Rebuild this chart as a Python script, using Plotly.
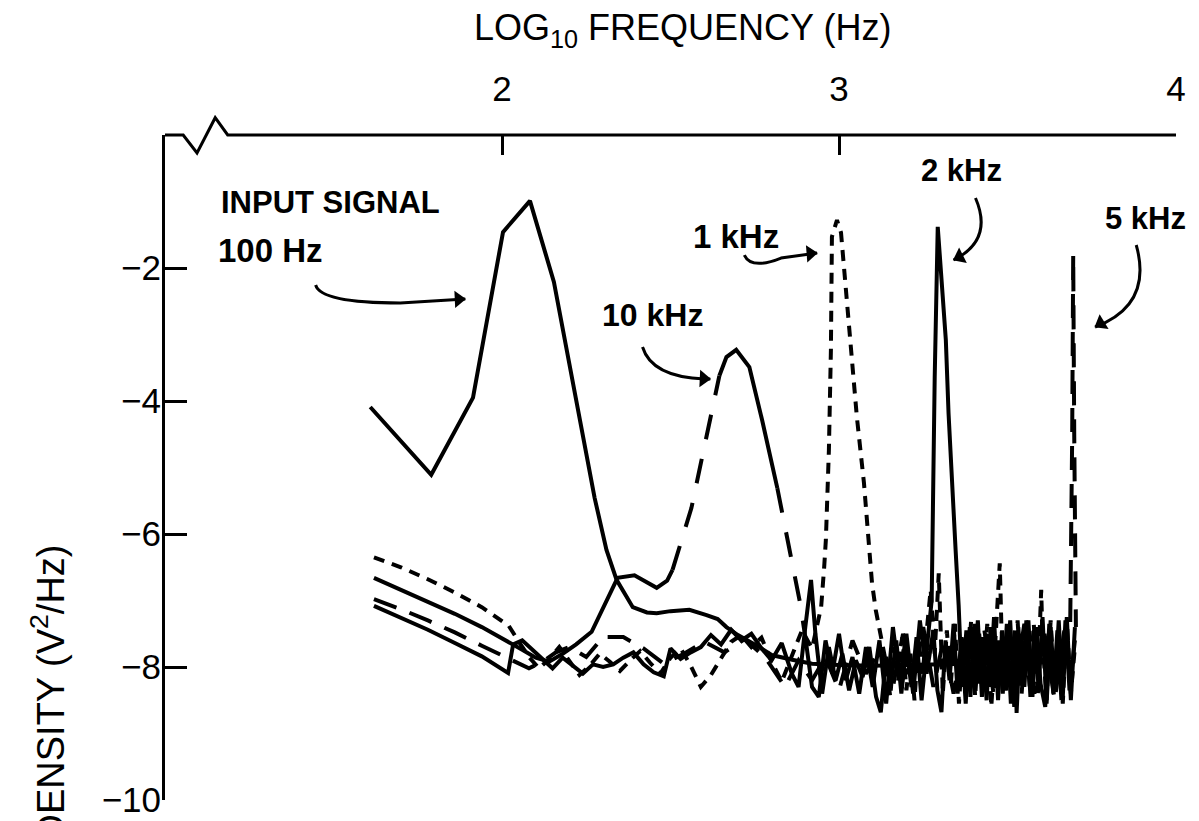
import math
import plotly.graph_objects as go

# ---------------- data: (log10 frequency [Hz], log10 spectral density [V^2/Hz]) ----------------
HUNDRED_HZ = [
    (1.609, -4.09), (1.790, -5.11), (1.914, -3.95), (2.003, -1.46), (2.083, -0.99),
    (2.154, -2.21), (2.275, -5.46), (2.31, -6.24), (2.34, -6.69), (2.388, -7.10),
    (2.43, -7.18), (2.459, -7.19), (2.50, -7.16), (2.556, -7.14), (2.607, -7.22),
    (2.64, -7.28), (2.666, -7.40), (2.70, -7.52), (2.763, -7.70), (2.80, -7.82),
    (2.861, -7.89), (2.92, -7.95), (3.00, -7.97), (3.10, -7.98), (3.20, -7.97),
    (3.30, -7.96), (3.40, -7.95), (3.50, -7.94), (3.60, -7.93), (3.70, -7.92),
]

ONE_KHZ = [
    (1.62, -6.35), (1.70, -6.50), (1.78, -6.68), (1.86, -6.88), (1.94, -7.10), (2.02, -7.38),
    (2.05, -7.62), (2.08, -7.85), (2.11, -8.02), (2.14, -7.88), (2.17, -7.70), (2.20, -7.92),
    (2.23, -8.12), (2.26, -7.98), (2.29, -7.80), (2.32, -7.92), (2.35, -8.06), (2.38, -7.90),
    (2.41, -7.76), (2.44, -7.94), (2.47, -8.10), (2.50, -7.86), (2.53, -7.72), (2.56, -7.98),
    (2.59, -8.30), (2.62, -8.12), (2.65, -7.88), (2.68, -7.62), (2.71, -7.52), (2.74, -7.70),
    (2.77, -7.56), (2.80, -7.92), (2.83, -8.22), (2.86, -7.84), (2.89, -7.45), (2.92, -7.72),
    (2.947, -7.10), (2.956, -6.50), (2.961, -6.09), (2.970, -4.74), (2.976, -3.23), (2.979, -1.53),
    (2.994, -1.28), (3.006, -1.47), (3.021, -2.33), (3.036, -3.23), (3.053, -4.24), (3.074, -5.23),
    (3.089, -6.20), (3.098, -6.74), (3.109, -7.14), (3.127, -7.59),
    (3.140, -7.95), (3.152, -8.45), (3.164, -7.70), (3.176, -8.20), (3.188, -7.55), (3.200, -8.35),
    (3.212, -7.80), (3.224, -8.50), (3.236, -7.60), (3.248, -8.10), (3.260, -7.40), (3.272, -6.84),
    (3.284, -7.80), (3.296, -6.59), (3.302, -7.50), (3.308, -8.40), (3.320, -7.45), (3.332, -8.25),
    (3.344, -7.35), (3.356, -8.55), (3.368, -7.60), (3.380, -8.30), (3.392, -7.30), (3.404, -8.45),
    (3.416, -7.50), (3.428, -8.20), (3.440, -7.35), (3.452, -8.60), (3.464, -7.60), (3.472, -6.90),
    (3.477, -6.44), (3.482, -7.40), (3.494, -8.35), (3.506, -7.45), (3.518, -8.50), (3.530, -7.30),
    (3.542, -8.40), (3.554, -7.55), (3.566, -8.30), (3.578, -7.35), (3.590, -8.45), (3.596, -7.40),
    (3.600, -6.84), (3.604, -7.60), (3.616, -8.50), (3.628, -7.30), (3.640, -8.35), (3.652, -7.45),
    (3.664, -8.55), (3.676, -7.30), (3.688, -8.40), (3.700, -7.70),
]

TWO_KHZ = [
    (1.62, -7.08), (1.70, -7.26), (1.78, -7.44), (1.86, -7.64), (1.94, -7.84), (2.018, -8.09),
    (2.033, -7.66), (2.06, -7.60), (2.09, -7.74), (2.12, -7.90), (2.15, -8.02), (2.18, -7.86),
    (2.21, -7.98), (2.24, -8.10), (2.27, -7.96), (2.30, -8.00), (2.33, -7.96), (2.36, -7.86),
    (2.39, -7.78), (2.42, -7.96), (2.45, -8.08), (2.48, -8.14), (2.50, -7.72), (2.53, -7.88),
    (2.56, -7.78), (2.59, -7.70), (2.62, -7.52), (2.65, -7.66), (2.68, -7.44), (2.71, -7.60),
    (2.74, -7.50), (2.77, -7.72), (2.80, -7.90), (2.83, -7.64), (2.86, -8.10), (2.88, -8.30),
    (2.90, -7.40), (2.917, -6.69), (2.93, -7.50), (2.95, -8.40), (2.97, -7.70), (2.99, -8.20),
    (3.01, -7.80), (3.03, -8.35), (3.05, -7.90), (3.07, -8.15), (3.09, -7.70), (3.11, -8.45),
    (3.124, -8.68), (3.14, -7.85), (3.155, -8.20), (3.17, -7.60), (3.185, -8.40), (3.20, -7.70),
    (3.215, -8.30), (3.23, -7.55), (3.245, -8.50), (3.26, -7.75), (3.275, -7.00), (3.284, -3.64),
    (3.293, -1.38), (3.317, -3.08), (3.325, -4.18), (3.346, -6.24), (3.355, -7.07), (3.365, -8.30),
    (3.378, -7.45), (3.39, -8.45), (3.402, -7.35), (3.414, -8.25), (3.426, -7.55), (3.438, -8.50),
    (3.45, -7.40), (3.462, -8.30), (3.474, -7.60), (3.486, -8.40), (3.498, -7.35), (3.51, -8.55),
    (3.522, -7.45), (3.527, -8.69), (3.538, -7.50), (3.55, -8.30), (3.562, -7.30), (3.574, -8.45),
    (3.586, -7.40), (3.598, -8.25), (3.612, -8.60), (3.624, -7.35), (3.636, -8.40), (3.648, -7.45),
    (3.66, -8.50), (3.672, -7.30), (3.684, -8.35), (3.70, -7.60),
]

FIVE_KHZ = [
    (1.62, -6.98), (1.70, -7.13), (1.78, -7.30), (1.86, -7.48), (1.94, -7.68), (2.02, -7.88),
    (2.08, -8.02), (2.12, -7.92), (2.16, -7.78), (2.20, -7.70), (2.25, -7.85), (2.30, -7.55),
    (2.36, -7.55), (2.42, -7.72), (2.48, -7.95), (2.54, -7.80), (2.60, -7.62), (2.66, -7.78),
    (2.72, -7.58), (2.78, -7.85), (2.84, -8.30), (2.88, -7.90), (2.92, -8.20), (2.96, -7.85),
    (3.00, -8.35), (3.04, -7.60), (3.08, -8.10), (3.12, -7.75), (3.16, -8.30), (3.19, -7.50),
    (3.22, -8.20), (3.25, -7.40), (3.28, -8.30), (3.31, -7.60), (3.34, -8.40), (3.37, -7.50),
    (3.40, -8.30), (3.43, -7.40), (3.46, -8.45), (3.49, -7.55), (3.52, -8.35), (3.55, -7.35),
    (3.58, -8.40), (3.61, -7.50), (3.64, -8.50), (3.67, -7.40), (3.686, -7.40), (3.692, -4.50),
    (3.695, -1.80), (3.698, -4.50), (3.703, -7.40),
]

TEN_KHZ = [
    (1.62, -6.66), (1.70, -6.84), (1.78, -7.02), (1.86, -7.20), (1.94, -7.40), (2.02, -7.62),
    (2.06, -7.74), (2.10, -7.86), (2.14, -7.92), (2.18, -7.80), (2.22, -7.66), (2.266, -7.47),
    (2.343, -6.66), (2.393, -6.62), (2.43, -6.73), (2.459, -6.81), (2.49, -6.70), (2.506, -6.54),
    (2.518, -6.35), (2.562, -5.61), (2.592, -4.89), (2.621, -4.17), (2.645, -3.62), (2.666, -3.34),
    (2.695, -3.23), (2.734, -3.49), (2.772, -4.29), (2.817, -5.31), (2.843, -5.98), (2.861, -6.39),
    (2.873, -6.69), (2.885, -7.05), (2.90, -7.55), (2.92, -8.30), (2.94, -8.45), (2.96, -7.60),
    (2.98, -8.10), (3.00, -7.50), (3.02, -8.20), (3.04, -7.85), (3.06, -8.40), (3.08, -7.70),
    (3.10, -8.30), (3.12, -7.60), (3.14, -8.55), (3.16, -7.40), (3.18, -8.20), (3.20, -7.50),
    (3.22, -8.40), (3.24, -7.30), (3.26, -8.10), (3.28, -7.45), (3.292, -8.35), (3.304, -8.68),
    (3.316, -7.60), (3.328, -8.20), (3.34, -7.35), (3.352, -8.40), (3.364, -7.55), (3.376, -8.55),
    (3.388, -7.40), (3.40, -8.20), (3.412, -7.30), (3.424, -8.45), (3.436, -7.50), (3.448, -8.30),
    (3.46, -7.25), (3.472, -8.50), (3.484, -7.45), (3.496, -8.35), (3.508, -7.30), (3.52, -8.60),
    (3.532, -7.40), (3.544, -8.25), (3.556, -7.30), (3.568, -8.45), (3.58, -7.45), (3.592, -8.30),
    (3.604, -7.25), (3.616, -8.55), (3.628, -7.40), (3.64, -8.35), (3.652, -7.30), (3.664, -8.45),
    (3.676, -7.25), (3.688, -8.50), (3.70, -7.40),
]
# parts of the 10 kHz curve that are drawn dashed (log10 f spans)
TEN_KHZ_DASHED_SPANS = [(2.506, 2.645), (2.817, 2.90)]

X_TICKS = [2, 3, 4]
Y_TICKS = [-2, -4, -6, -8, -10]
Y_TICK_TEXT = ["\u22122", "\u22124", "\u22126", "\u22128", "\u221210"]

# label text, x, y (data), font size
LABELS = [
    ("INPUT SIGNAL", 1.160, -1.02, 31),
    ("100 Hz", 1.150, -1.73, 33),
    ("10 kHz", 2.290, -2.70, 32),
    ("1 kHz", 2.560, -1.53, 33),
    ("2 kHz", 3.237, -0.54, 31),
    ("5 kHz", 3.784, -1.26, 31),
]
# curved pointer arrows: start, control, end, (optional straight tail end), head back-point
ARROWS = [
    ((1.447, -2.256), (1.462, -2.526), (1.698, -2.526), (1.891, -2.466), (1.831, -2.48)),
    ((2.417, -3.188), (2.444, -3.639), (2.601, -3.669), (2.618, -3.669), (2.556, -3.654)),
    ((2.719, -1.805), (2.740, -2.030), (2.828, -1.850), (2.935, -1.774), (2.882, -1.795)),
    ((3.405, -0.947), (3.459, -1.579), (3.340, -1.880), None, (3.388, -1.759)),
    ((3.882, -1.654), (3.932, -2.556), (3.760, -2.887), None, (3.799, -2.767)),
]

# ---------------- figure ----------------
W, H = 1199, 821
ML, MR, MT, MB = 165, 23, 135, 21
X_RANGE = [1, 4]
Y_RANGE = [-10, 0]
XPX = (W - ML - MR) / (X_RANGE[1] - X_RANGE[0])
YPX = (H - MT - MB) / (Y_RANGE[1] - Y_RANGE[0])

LW = 4
fig = go.Figure()


def add(xs, ys, dash, name, width=LW):
    fig.add_trace(go.Scatter(x=xs, y=ys, mode="lines", name=name, hoverinfo="skip",
                             line=dict(color="black", width=width, dash=dash)))


def px(pairs):
    return [p[0] for p in pairs], [p[1] for p in pairs]


def split_runs(pairs, spans):
    sx, sy, dx, dy = [], [], [], []
    prev = None
    for (x0, y0), (x1, y1) in zip(pairs[:-1], pairs[1:]):
        mid = 0.5 * (x0 + x1)
        d = any(a <= mid <= b for a, b in spans)
        tx, ty = (dx, dy) if d else (sx, sy)
        if prev != d:
            if tx:
                tx.append(None)
                ty.append(None)
            tx.append(x0)
            ty.append(y0)
        tx.append(x1)
        ty.append(y1)
        prev = d
    return sx, sy, dx, dy


x, y = px(FIVE_KHZ)
add(x, y, "24px,14px", "5 kHz")
x, y = px(ONE_KHZ)
add(x, y, "11px,8px", "1 kHz")
sx, sy, dx, dy = split_runs(TEN_KHZ, TEN_KHZ_DASHED_SPANS)
add(sx, sy, "solid", "10 kHz")
add(dx, dy, "25px,20px", "10 kHz (dashed part)")
x, y = px(TWO_KHZ)
add(x, y, "solid", "2 kHz")
x, y = px(HUNDRED_HZ)
add(x, y, "solid", "100 Hz")

shapes = []
annotations = []

# pointer arrows: curved path + triangular head marker
hx, hy, ha = [], [], []
HEAD = 15
for (s, c, e, tail, back) in ARROWS:
    path = f"M {s[0]},{s[1]} Q {c[0]},{c[1]} {e[0]},{e[1]}"
    tip = e
    if tail is not None:
        path += f" L {tail[0]},{tail[1]}"
        tip = tail
    shapes.append(dict(type="path", path=path, xref="x", yref="y",
                       line=dict(color="black", width=3)))
    dxp = (tip[0] - back[0]) * XPX
    dyp = -(tip[1] - back[1]) * YPX
    L = math.hypot(dxp, dyp)
    ux, uy = dxp / L, dyp / L
    hx.append(tip[0] - 0.45 * HEAD * ux / XPX)
    hy.append(tip[1] + 0.45 * HEAD * uy / YPX)
    ha.append(math.degrees(math.atan2(ux, -uy)))
fig.add_trace(go.Scatter(x=hx, y=hy, mode="markers", hoverinfo="skip", name="arrow heads",
                         marker=dict(symbol="triangle-up", size=HEAD, angle=ha, color="black",
                                     line=dict(width=0))))

for text, lx, ly, size in LABELS:
    annotations.append(dict(x=lx, y=ly, xref="x", yref="y", text=f"<b>{text}</b>",
                            showarrow=False, xanchor="left", yanchor="middle",
                            font=dict(size=size, color="black")))


# top axis line with break symbol (paper coordinates)
def pxp(xv):
    return (xv - X_RANGE[0]) / (X_RANGE[1] - X_RANGE[0])


brk = [(1.0, 1.0), (1.054, 1.0), (1.095, 0.973), (1.149, 1.026), (1.186, 1.0), (4.0, 1.0)]
brk_path = "M " + " L ".join(f"{pxp(a)},{b}" for a, b in brk)
shapes.append(dict(type="path", path=brk_path, xref="paper", yref="paper",
                   line=dict(color="black", width=3)))

annotations.append(dict(x=0.512, y=1.158, xref="paper", yref="paper",
                        text="LOG<sub>10</sub> FREQUENCY (Hz)", showarrow=False,
                        xanchor="center", yanchor="middle", font=dict(size=36, color="black")))
annotations.append(dict(x=-0.1157, y=0.3865, xref="paper", yref="paper",
                        text="DENSITY (V<sup>2</sup>/Hz)", textangle=-90, showarrow=False,
                        xanchor="center", yanchor="top", font=dict(size=38, color="black")))

fig.update_layout(
    width=W, height=H, autosize=False,
    margin=dict(l=ML, r=MR, t=MT, b=MB, pad=0, autoexpand=False),
    paper_bgcolor="white", plot_bgcolor="white", showlegend=False,
    font=dict(family="Liberation Sans, Arial, sans-serif", color="black"),
    shapes=shapes, annotations=annotations,
)
fig.update_xaxes(range=X_RANGE, side="top", tickvals=X_TICKS, ticks="inside", ticklen=20,
                 tickwidth=2.5, tickcolor="black", showline=False, showgrid=False,
                 zeroline=False, tickfont=dict(size=35, color="black"), ticklabelstandoff=26,
                 automargin=False)
fig.update_yaxes(range=Y_RANGE, tickvals=Y_TICKS, ticktext=Y_TICK_TEXT, ticks="inside",
                 ticklen=22, tickwidth=2.5, tickcolor="black", showline=True, linewidth=3,
                 linecolor="black", showgrid=False, zeroline=False,
                 tickfont=dict(size=35, color="black"), ticklabelstandoff=-6, automargin=False)

fig.write_html("out.html")
